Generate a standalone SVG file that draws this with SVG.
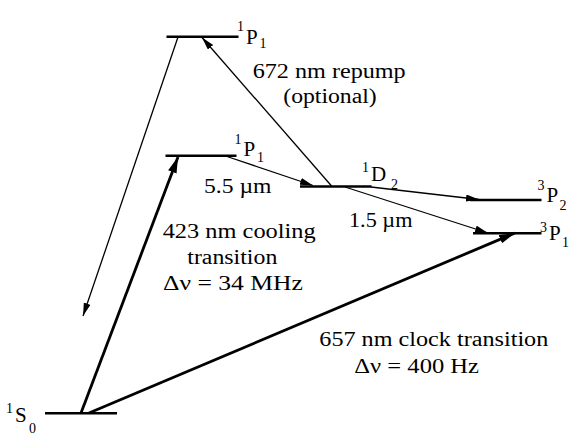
<svg xmlns="http://www.w3.org/2000/svg" width="574" height="438" viewBox="0 0 574 438">
<style>
.lvl{stroke:#000;stroke-width:2.6;fill:none}
.thin{stroke:#000;stroke-width:1.3;fill:none}
.thick{stroke:#000;stroke-width:2.8;fill:none}
.f{font-family:'Liberation Serif','Times New Roman','DejaVu Serif',serif;fill:#000}
.t{font-size:20px}
.big{font-size:21px}
.sm{font-size:14px}
</style>
<defs>
<marker id="ah" markerUnits="userSpaceOnUse" markerWidth="14" markerHeight="8" refX="13" refY="3.5" orient="auto">
<path d="M0,0 L13,3.5 L0,7 Z" fill="#000"/>
</marker>
<marker id="ahb" markerUnits="userSpaceOnUse" markerWidth="17" markerHeight="10" refX="16" refY="4.5" orient="auto">
<path d="M0,0 L16,4.5 L0,9 Z" fill="#000"/>
</marker>
</defs>
<rect width="574" height="438" fill="#fff"/>

<g id="connectors">
<line class="thin" x1="178" y1="37" x2="83" y2="316" marker-end="url(#ah)"/>
<line class="thick" x1="81" y1="413" x2="178" y2="157" marker-end="url(#ahb)"/>
<line class="thick" x1="89" y1="413" x2="515" y2="233" marker-end="url(#ahb)"/>
<line class="thin" x1="332" y1="186.5" x2="202" y2="37.5" marker-end="url(#ah)"/>
<line class="thin" x1="227" y1="156.5" x2="313" y2="185.5" marker-end="url(#ah)"/>
<line class="thin" x1="371" y1="187" x2="479" y2="199.5" marker-end="url(#ah)"/>
<line class="thin" x1="345" y1="187" x2="488" y2="233" marker-end="url(#ah)"/>
</g>

<g id="level-1P1-upper">
<line class="lvl" x1="166.5" y1="36.7" x2="238.5" y2="36.7"/>
<text class="f"><tspan class="sm" x="237" y="31">1</tspan><tspan class="big" x="246" y="43.5">P</tspan><tspan class="sm" x="259.5" y="48">1</tspan></text>
</g>
<g id="level-1P1-lower">
<line class="lvl" x1="165.5" y1="155.7" x2="236.5" y2="155.7"/>
<text class="f"><tspan class="sm" x="234.5" y="143.5">1</tspan><tspan class="big" x="243.5" y="155.5">P</tspan><tspan class="sm" x="257" y="162">1</tspan></text>
</g>
<g id="level-1D2">
<line class="lvl" x1="300" y1="186.5" x2="371.5" y2="186.5"/>
<text class="f"><tspan class="sm" x="362" y="172">1</tspan><tspan class="big" x="371" y="181">D</tspan><tspan class="sm" x="391" y="189">2</tspan></text>
</g>
<g id="level-3P2">
<line class="lvl" x1="470" y1="200" x2="541.5" y2="200"/>
<text class="f"><tspan class="sm" x="537.5" y="190">3</tspan><tspan class="big" x="546.5" y="202">P</tspan><tspan class="sm" x="559.5" y="210">2</tspan></text>
</g>
<g id="level-3P1">
<line class="lvl" x1="473" y1="233.3" x2="541.5" y2="233.3"/>
<text class="f"><tspan class="sm" x="540" y="232">3</tspan><tspan class="big" x="549" y="240">P</tspan><tspan class="sm" x="562" y="246.5">1</tspan></text>
</g>
<g id="level-1S0">
<line class="lvl" x1="45" y1="413.3" x2="117" y2="413.3"/>
<text class="f"><tspan class="sm" x="6" y="413">1</tspan><tspan class="big" x="15" y="421.5">S</tspan><tspan class="sm" x="29" y="433">0</tspan></text>
</g>

<g id="labels">
<text class="f t" x="252.7" y="77.5" textLength="153" lengthAdjust="spacingAndGlyphs">672 nm repump</text>
<text class="f t" x="283.3" y="103" textLength="93.4" lengthAdjust="spacingAndGlyphs">(optional)</text>
<text class="f t" x="204" y="192.5" textLength="67.5" lengthAdjust="spacingAndGlyphs">5.5 µm</text>
<text class="f t" x="349" y="227" textLength="63.5" lengthAdjust="spacingAndGlyphs">1.5 µm</text>
<text class="f t" x="162.7" y="238" textLength="153" lengthAdjust="spacingAndGlyphs">423 nm cooling</text>
<text class="f t" x="187.3" y="264" textLength="90" lengthAdjust="spacingAndGlyphs">transition</text>
<text class="f t" x="163" y="290" textLength="140" lengthAdjust="spacingAndGlyphs">Δν = 34 MHz</text>
<text class="f t" x="319.3" y="346" textLength="229" lengthAdjust="spacingAndGlyphs">657 nm clock transition</text>
<text class="f t" x="354.3" y="372.5" textLength="124.7" lengthAdjust="spacingAndGlyphs">Δν = 400 Hz</text>
</g>
</svg>
